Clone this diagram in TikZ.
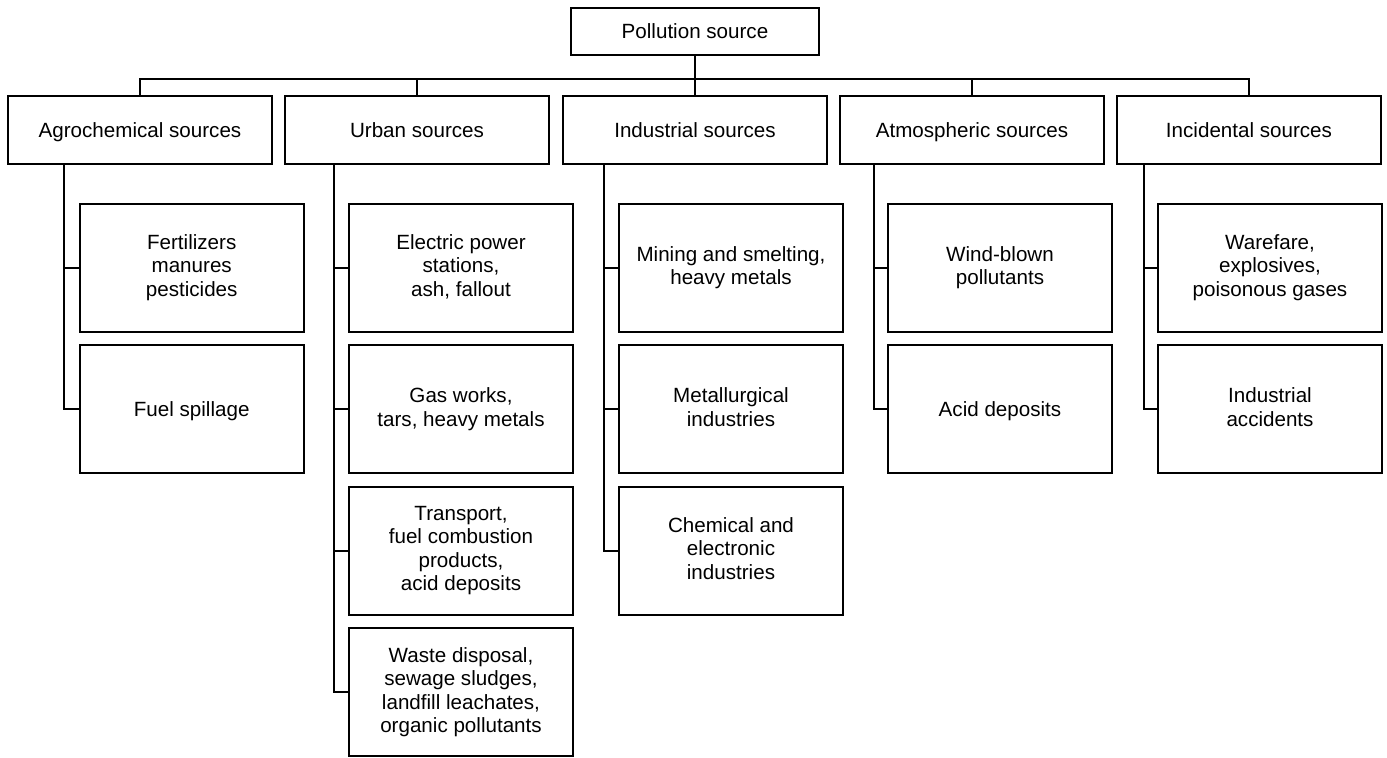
\documentclass[tikz,border=0pt]{standalone}
\usepackage{fontspec}
\setmainfont{Liberation Sans}
\begin{document}
\begin{tikzpicture}[x=0.5pt,y=-0.5pt,
  every node/.style={font=\fontsize{10.3}{11.75}\selectfont, align=center, inner sep=0pt,
    execute at begin node={\rule{0pt}{9.3pt}},
    execute at end node={\rule[-2.2pt]{0pt}{2.2pt}}},
  topbox/.style={draw, line width=0.8pt, minimum width=124pt, minimum height=23.5pt},
  catbox/.style={draw, line width=0.8pt, minimum width=132pt, minimum height=34pt},
  leafbox/.style={draw, line width=0.8pt, minimum width=112pt, minimum height=64pt},
  conn/.style={line width=0.8pt}]
\useasboundingbox (0,0) rectangle (1387,757);
% top
\node[topbox] (top) at (695,31.5) {Pollution source};
% categories
\node[catbox] (agro) at (140,130) {Agrochemical sources};
\node[catbox] (urb)  at (417,130) {Urban sources};
\node[catbox] (ind)  at (695,130) {Industrial sources};
\node[catbox] (atm)  at (972,130) {Atmospheric sources};
\node[catbox] (inc)  at (1249,130) {Incidental sources};
% leaves
\node[leafbox] (a1) at (191.7,267.7) {Fertilizers\\manures\\pesticides};
\node[leafbox] (a2) at (191.7,409) {Fuel spillage};
\node[leafbox] (u1) at (461,267.7) {Electric power\\stations,\\ash, fallout};
\node[leafbox] (u2) at (461,409) {Gas works,\\tars, heavy metals};
\node[leafbox] (u3) at (461,550.7) {Transport,\\fuel combustion\\products,\\acid deposits};
\node[leafbox] (u4) at (461,692) {Waste disposal,\\sewage sludges,\\landfill leachates,\\organic pollutants};
\node[leafbox] (i1) at (731,267.7) {Mining and smelting,\\heavy metals};
\node[leafbox] (i2) at (731,409) {Metallurgical\\industries};
\node[leafbox] (i3) at (731,550.7) {Chemical and\\electronic\\industries};
\node[leafbox] (t1) at (1000,267.7) {Wind-blown\\pollutants};
\node[leafbox] (t2) at (1000,409) {Acid deposits};
\node[leafbox] (n1) at (1270,267.7) {Warefare,\\explosives,\\poisonous gases};
\node[leafbox] (n2) at (1270,409) {Industrial\\accidents};
% bus
\coordinate (bus) at (0,79);
\draw[conn] (top.south) -- (top.south |- bus);
\draw[conn] (agro.north) -- (agro.north |- bus) -- (inc.north |- bus) -- (inc.north);
\foreach \n in {urb,ind,atm} \draw[conn] (\n.north) -- (\n.north |- bus);
% trunks
\coordinate (ta) at (64,0);
\coordinate (tu) at (334,0);
\coordinate (ti) at (604,0);
\coordinate (tt) at (874,0);
\coordinate (tn) at (1144,0);
\draw[conn] (ta |- agro.south) |- (a2.west);
\draw[conn] (ta |- a1.west) -- (a1.west);
\draw[conn] (tu |- urb.south) |- (u4.west);
\foreach \n in {u1,u2,u3} \draw[conn] (tu |- \n.west) -- (\n.west);
\draw[conn] (ti |- ind.south) |- (i3.west);
\foreach \n in {i1,i2} \draw[conn] (ti |- \n.west) -- (\n.west);
\draw[conn] (tt |- atm.south) |- (t2.west);
\draw[conn] (tt |- t1.west) -- (t1.west);
\draw[conn] (tn |- inc.south) |- (n2.west);
\draw[conn] (tn |- n1.west) -- (n1.west);
\end{tikzpicture}
\end{document}
